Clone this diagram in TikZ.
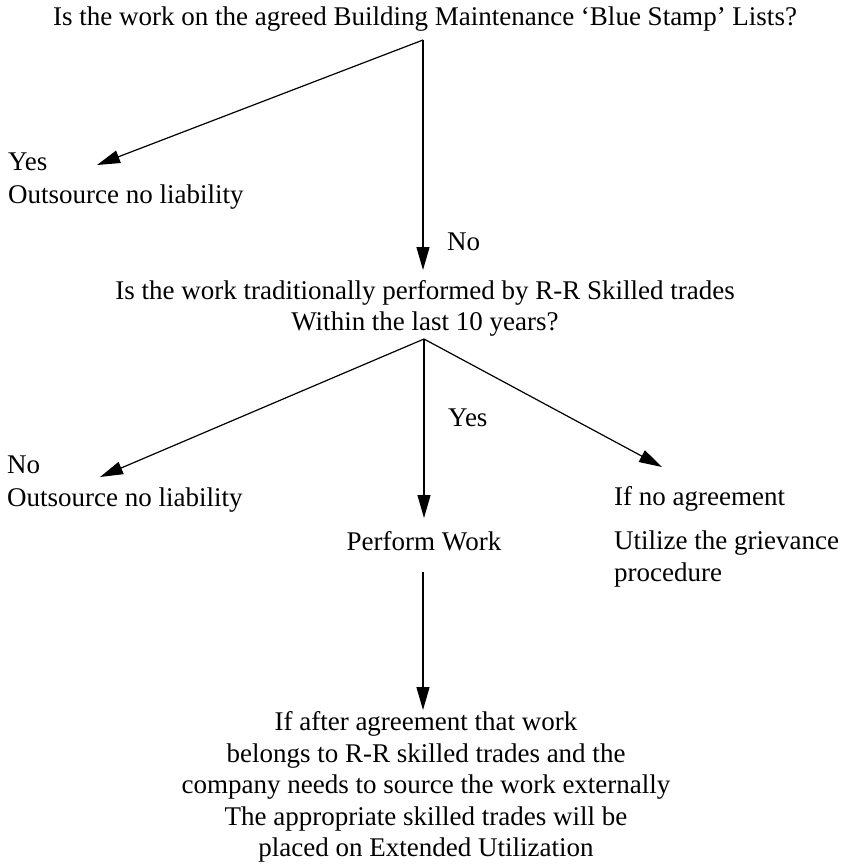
\documentclass[tikz,border=0pt]{standalone}
\usepackage{fontspec}
\setmainfont{Liberation Serif}
\usetikzlibrary{arrows.meta}
\begin{document}
\begin{tikzpicture}[x=1pt,y=-1pt,
  txt/.style={inner sep=0pt, font=\fontsize{27}{31.5}\selectfont},
  arr/.style={-{Triangle[length=23pt,width=13pt]}, line width=1.2pt}]
\useasboundingbox[fill=white] (0,0) rectangle (849,864);
% texts
\node[txt, anchor=base] (q1) at (425,26) {Is the work on the agreed Building Maintenance ‘Blue Stamp’ Lists?};
\node[txt, anchor=base west] (yes1) at (8,170) {Yes};
\node[txt, anchor=base west] (out1) at (8,203) {Outsource no liability};
\node[txt, anchor=base west] (no1) at (447,250) {No};
\node[txt, anchor=north, align=center] (q2) at (425,280) {Is the work traditionally performed by R-R Skilled trades\\Within the last 10 years?};
\node[txt, anchor=base west] (yes2) at (448,426) {Yes};
\node[txt, anchor=base west] (no2) at (7,473) {No};
\node[txt, anchor=base west] (out2) at (7,506) {Outsource no liability};
\node[txt, anchor=base] (pw) at (424,550) {Perform Work};
\node[txt, anchor=base west] (ina) at (614,505) {If no agreement};
\node[txt, anchor=north west, align=left] (ug) at (614,531) {Utilize the grievance\\procedure};
\node[txt, anchor=north, align=center] (q3) at (426,711.5) {If after agreement that work\\belongs to R-R skilled trades and the\\company needs to source the work externally\\The appropriate skilled trades will be\\placed on Extended Utilization};
% junctions and arrow ends
\coordinate (j1) at (423,40);
\coordinate (e1) at (97,165);
\coordinate (e2) at (423,270);
\coordinate (j2) at (424,339);
\coordinate (e3) at (100,477);
\coordinate (e4) at (424,518);
\coordinate (e5) at (662,467);
\coordinate (s6) at (423,572);
\coordinate (e6) at (423,710);
\draw[arr] (j1) -- (e1);
\draw[arr] (j1) -- (e2);
\draw[arr] (j2) -- (e3);
\draw[arr] (j2) -- (e4);
\draw[arr] (j2) -- (e5);
\draw[arr] (s6) -- (e6);
\end{tikzpicture}
\end{document}
